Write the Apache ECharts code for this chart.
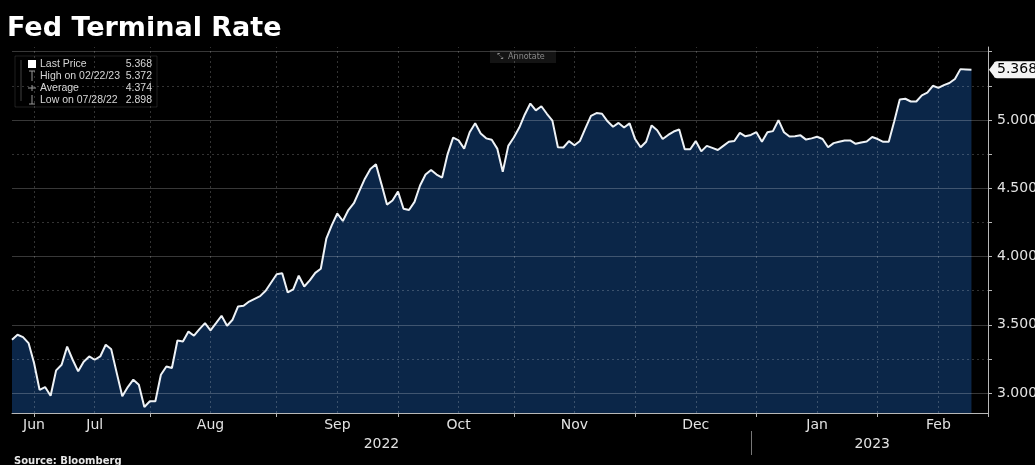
<!DOCTYPE html>
<html><head><meta charset="utf-8">
<script src="https://cdn.jsdelivr.net/npm/echarts@6/dist/echarts.min.js"></script>
<style>html,body{margin:0;padding:0;background:#000;overflow:hidden}#c{width:1035px;height:465px}</style>
</head><body><div id="c"></div>
<script>
// ---- data ----
const startDate = '2022-06-27';   // first trading day shown
const endDate = '2023-03-01';     // axis extends a few days past last point
const values = [
3.39,3.427,3.41,3.366,3.22,3.024,3.044,2.98,3.166,3.207,
3.34,3.244,3.159,3.23,3.268,3.244,3.268,3.354,3.32,3.146,
2.976,3.044,3.098,3.061,2.898,2.94,2.94,3.134,3.195,3.183,
3.385,3.378,3.45,3.42,3.468,3.512,3.459,3.512,3.566,3.493,
3.537,3.634,3.639,3.67,3.69,3.71,3.749,3.81,3.87,3.878,
3.737,3.76,3.859,3.78,3.825,3.88,3.91,4.13,4.23,4.315,
4.26,4.34,4.39,4.48,4.57,4.64,4.675,4.53,4.38,4.41,
4.475,4.35,4.34,4.40,4.52,4.60,4.634,4.60,4.578,4.75,
4.87,4.85,4.79,4.91,4.975,4.90,4.865,4.855,4.79,4.62,
4.81,4.871,4.944,5.04,5.12,5.07,5.10,5.045,4.995,4.80,
4.798,4.845,4.815,4.846,4.94,5.03,5.05,5.045,4.99,4.95,
4.978,4.945,4.975,4.86,4.80,4.84,4.96,4.925,4.86,4.89,
4.915,4.93,4.785,4.785,4.845,4.77,4.81,4.795,4.78,4.81,
4.84,4.846,4.905,4.88,4.89,4.91,4.84,4.91,4.918,4.998,
4.91,4.878,4.88,4.887,4.856,4.865,4.877,4.86,4.80,4.83,
4.84,4.85,4.85,4.825,4.835,4.842,4.875,4.86,4.84,4.84,
4.99,5.15,5.155,5.135,5.135,5.18,5.20,5.25,5.235,5.255,
5.27,5.30,5.372,5.37,5.368
];
const yLabelValues = [3, 3.5, 4, 4.5, 5];
const yMajorGrid = [3, 3.5, 4, 4.5, 5, 5.5];
const yMinorGrid = [3.25, 3.75, 4.25, 4.75, 5.25];
const monthNames = ['Jan','Feb','Mar','Apr','May','Jun','Jul','Aug','Sep','Oct','Nov','Dec'];
const legendRows = [['Last Price','5.368'],['High on 02/22/23','5.372'],['Average','4.374'],['Low on 07/28/22','2.898']];
const titleText = 'Fed Terminal Rate';
const sourceText = 'Source: Bloomberg';

// ---- weekday categories ----
const dates = [];
{
  let t = Date.parse(startDate + 'T00:00:00Z');
  const e = Date.parse(endDate + 'T00:00:00Z');
  while (t <= e) {
    const dd = new Date(t);
    const w = dd.getUTCDay();
    if (w !== 0 && w !== 6) dates.push(dd.toISOString().slice(0, 10));
    t += 86400000;
  }
}
const N = dates.length;
const monthStarts = [];
for (let i = 1; i < N; i++) if (dates[i].slice(5, 7) !== dates[i - 1].slice(5, 7)) monthStarts.push(i);
const labelMap = new Map();
labelMap.set(monthStarts[0], monthNames[+dates[0].slice(5, 7) - 1]);
monthStarts.forEach(ms => {
  const li = ms + 11;
  if (li < values.length) labelMap.set(li, monthNames[+dates[ms].slice(5, 7) - 1]);
});
const tickSet = new Set(monthStarts);
let yearStart = 0;
for (let i = 1; i < N; i++) if (dates[i].slice(0, 4) !== dates[i - 1].slice(0, 4)) { yearStart = i; break; }
const yearLabelMap = new Map();
yearLabelMap.set(Math.round((0 + yearStart - 0.5) / 2), dates[0].slice(0, 4));
yearLabelMap.set(Math.round((yearStart - 0.5 + N - 1) / 2), dates[yearStart].slice(0, 4));

const vGrid = [...new Set([...monthStarts, ...labelMap.keys()])].filter(i => i < N - 1);
const FONT = 'DejaVu Sans';
const solidGrid = { color: 'rgba(255,255,255,0.22)', width: 1, type: 'solid' };
const dotGrid = { color: 'rgba(255,255,255,0.2)', width: 1, type: [2, 3] };
const markData = [
  ...yMajorGrid.map(v => ({ yAxis: v, lineStyle: solidGrid })),
  ...yMinorGrid.map(v => ({ yAxis: v, lineStyle: dotGrid })),
  ...vGrid.map(i => ({ xAxis: dates[i], lineStyle: dotGrid }))
];
const lastValue = values[values.length - 1];
const yMin = 2.854, yMax = 5.534;

const chart = echarts.init(document.getElementById('c'), null, { renderer: 'canvas' });
const option = {
  backgroundColor: '#000',
  animation: false,
  grid: { left: 12, right: 47, top: 47, bottom: 52, containLabel: false, outerBoundsMode: 'none' },
  xAxis: [{
    type: 'category', data: dates, boundaryGap: false, position: 'bottom',
    axisLine: { show: true, lineStyle: { color: '#b8b8b8', width: 1 } },
    axisTick: { show: true, interval: (i) => tickSet.has(i), length: 4, lineStyle: { color: '#b8b8b8' } },
    axisLabel: { interval: (i) => labelMap.has(i), formatter: (v, i) => labelMap.get(i) || '',
      color: '#e2e2e2', fontFamily: FONT, fontSize: 14, margin: 5 },
    splitLine: { show: false }
  }, {
    type: 'category', data: dates, boundaryGap: false, position: 'bottom', offset: 18,
    axisLine: { show: false },
    axisTick: { show: true, interval: (i) => i === yearStart - 1, length: 24, lineStyle: { color: '#777' } },
    axisLabel: { interval: (i) => yearLabelMap.has(i), formatter: (v, i) => yearLabelMap.get(i) || '',
      color: '#e2e2e2', fontFamily: FONT, fontSize: 14, margin: 6 },
    splitLine: { show: false }
  }],
  yAxis: [{
    type: 'value', position: 'right', min: yMin, max: yMax, scale: true,
    axisLine: { show: true, lineStyle: { color: '#b8b8b8' } },
    axisTick: { show: true, customValues: [...yMajorGrid, ...yMinorGrid], length: 4, lineStyle: { color: '#b8b8b8' } },
    axisLabel: { customValues: yLabelValues, formatter: v => v.toFixed(3), color: '#e2e2e2', fontFamily: FONT, fontSize: 14, margin: 9 },
    splitLine: { show: false }
  }, {
    type: 'value', position: 'right', min: yMin, max: yMax, scale: true,
    axisLine: { show: false }, axisTick: { show: false }, splitLine: { show: false },
    axisLabel: { customValues: [lastValue], formatter: v => v.toFixed(3), color: '#000', backgroundColor: '#f4f4f4',
      padding: [2, 4, 1, 3], borderRadius: 3, fontFamily: FONT, fontSize: 14, margin: 6 }
  }],
  series: [{
    type: 'line', data: values, showSymbol: false, z: 1,
    lineStyle: { width: 0 }, areaStyle: { color: '#0b2648', opacity: 1 }
  }, {
    type: 'line', data: values, showSymbol: false, z: 2, lineStyle: { width: 0, opacity: 0 },
    markLine: { silent: true, symbol: 'none', label: { show: false }, animation: false, data: markData }
  }, {
    type: 'line', data: values, showSymbol: false, z: 3,
    lineStyle: { color: '#eef2f6', width: 2 }
  }]
};
chart.setOption(option);

// ---- overlays ----
const tagY = chart.convertToPixel({ yAxisIndex: 1 }, lastValue);
const axisX = chart.convertToPixel({ xAxisIndex: 0 }, dates[N - 1]);
const legendChildren = [];
legendRows.forEach((r, k) => {
  const y = 64 + k * 12;
  legendChildren.push({ type: 'text', style: { x: 40, y: y, text: r[0], fill: '#d6d6d6', font: '10.5px "Liberation Sans"', textVerticalAlign: 'middle' } });
  legendChildren.push({ type: 'text', style: { x: 152, y: y, text: r[1], fill: '#d6d6d6', font: '10.5px "Liberation Sans"', textAlign: 'right', textVerticalAlign: 'middle' } });
});
chart.setOption({
  graphic: [
    { type: 'text', left: 7, top: 15, style: { text: titleText, fill: '#ffffff', font: 'bold 27px "DejaVu Sans"' } },
    { type: 'rect', shape: { x: 15, y: 56, width: 142, height: 51 }, style: { fill: 'rgba(0,0,0,0)', stroke: 'rgba(255,255,255,0.12)', lineWidth: 1 } },
    { type: 'rect', shape: { x: 28, y: 60, width: 8, height: 8 }, style: { fill: '#ffffff' } },
    { type: 'polyline', shape: { points: [[21, 60], [21, 101]] }, style: { stroke: 'rgba(255,255,255,0.25)', lineWidth: 1 } },
    { type: 'polyline', shape: { points: [[29, 71], [35, 71]] }, style: { stroke: '#999', lineWidth: 1 } },
    { type: 'polyline', shape: { points: [[32, 71], [32, 81]] }, style: { stroke: '#999', lineWidth: 1 } },
    { type: 'polyline', shape: { points: [[28, 88], [36, 88]] }, style: { stroke: '#999', lineWidth: 1 } },
    { type: 'polyline', shape: { points: [[32, 85], [32, 91]] }, style: { stroke: '#999', lineWidth: 1 } },
    { type: 'polyline', shape: { points: [[32, 95], [32, 104]] }, style: { stroke: '#999', lineWidth: 1 } },
    { type: 'polyline', shape: { points: [[29, 104], [35, 104]] }, style: { stroke: '#999', lineWidth: 1 } },
    ...legendChildren,
    { type: 'rect', shape: { x: 490, y: 50, width: 66, height: 13 }, style: { fill: '#141414' } },
    { type: 'text', style: { x: 497, y: 57, text: '⤡  Annotate', fill: '#8a8a8a', font: '8px "DejaVu Sans"', textVerticalAlign: 'middle' } },
    { type: 'polygon', shape: { points: [[axisX + 1, tagY], [axisX + 7, tagY - 8], [axisX + 7, tagY + 8]] }, style: { fill: '#f4f4f4' } },
    { type: 'text', style: { x: 14, y: 456, text: sourceText, fill: '#e8e8e8', font: 'bold 10px "DejaVu Sans"' } }
  ]
});
</script>
</body></html>
